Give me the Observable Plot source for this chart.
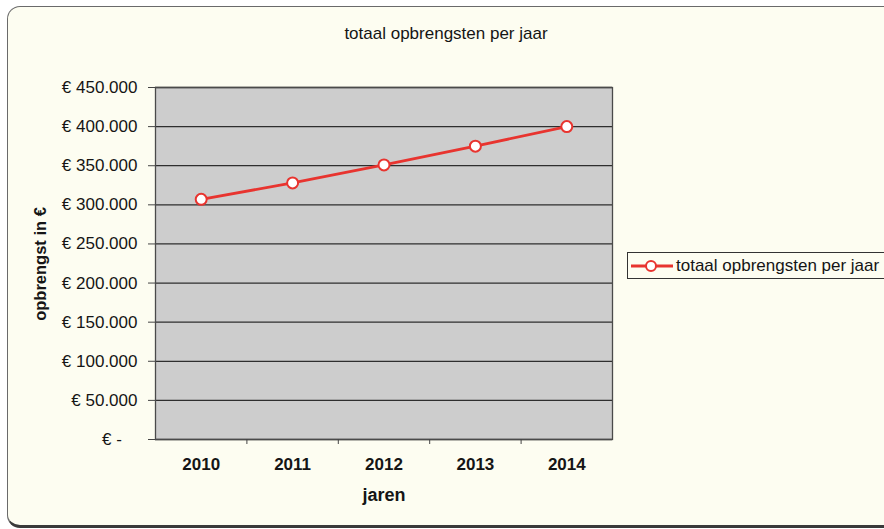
<!DOCTYPE html>
<html>
<head>
<meta charset="utf-8">
<script src="https://cdn.jsdelivr.net/npm/d3@7"></script>
<script src="https://cdn.jsdelivr.net/npm/@observablehq/plot@0.6"></script>
<style>
  html, body { margin: 0; padding: 0; background: #ffffff; overflow: hidden; }
  #wrap { position: relative; width: 884px; height: 529px; overflow: hidden; font-family: "Liberation Sans", Arial, sans-serif; color: #151515; }
  #frame { position: absolute; left: 7px; top: 6px; width: 900px; height: 518px; background: #fdfdf1; border: 1.5px solid #6a6a6a; border-bottom: 3px solid #3a3a3a; border-radius: 13px; }
  #chart { position: absolute; left: 0; top: 0; }
  .title { position: absolute; left: 446px; top: 25px; transform: translateX(-50%); font-size: 17px; white-space: nowrap; line-height: 1; }
  .ylab { position: absolute; left: 40px; top: 264px; transform: translate(-50%, -50%) rotate(-90deg); font-size: 16.5px; font-weight: bold; white-space: nowrap; line-height: 1; }
  .xlab { position: absolute; left: 384px; top: 486px; transform: translateX(-50%); font-size: 18px; font-weight: bold; white-space: nowrap; line-height: 1; }
  .legend { position: absolute; left: 627px; top: 252px; width: 262px; height: 27px; border: 1.5px solid #333; box-sizing: border-box; display: flex; align-items: center; font-size: 17px; white-space: nowrap; }
  .legend svg { margin-left: 3px; margin-right: 3px; }
</style>
</head>
<body>
<div id="wrap">
  <div id="frame"></div>
  <div id="chart"></div>
  <div class="title" id="title"></div>
  <div class="ylab" id="ylab"></div>
  <div class="xlab" id="xlab"></div>
  <div class="legend" id="legend"></div>
</div>
<script>
// ---- data ----
const years = [2010, 2011, 2012, 2013, 2014];
const revenue = [307000, 328000, 351000, 375000, 400000];
const yTicks = [0, 50000, 100000, 150000, 200000, 250000, 300000, 350000, 400000, 450000];
const seriesName = "totaal opbrengsten per jaar";
const chartTitle = "totaal opbrengsten per jaar";
const yTitle = "opbrengst in €";
const xTitle = "jaren";

const red = "#e8342f";
const data = years.map((y, i) => ({year: y, value: revenue[i]}));
const bounds = years.slice(0, -1).map(y => y + 0.5);

const fmt = d => d === 0 ? "€ -\u00a0\u00a0\u00a0\u200a" : "€ " + d3.format(",")(d).replace(/,/g, ".");

const plot = Plot.plot({
  width: 884,
  height: 529,
  marginLeft: 155,
  marginRight: 272,
  marginTop: 87,
  marginBottom: 90,
  style: {background: "transparent", fontFamily: "'Liberation Sans', Arial, sans-serif", fontSize: "17px", color: "#151515"},
  x: {type: "linear", domain: [years[0] - 0.5, years[years.length - 1] + 0.5]},
  y: {domain: [0, 450000]},
  marks: [
    Plot.frame({fill: "#cdcdcd", stroke: null}),
    Plot.gridY({ticks: yTicks, stroke: "#2e2e2e", strokeOpacity: 1, strokeWidth: 1.3}),
    Plot.frame({stroke: "#4a4a4a", strokeWidth: 1.3}),
    Plot.axisY({ticks: yTicks, tickFormat: fmt, tickSize: 7, tickPadding: 11, label: null, stroke: "#444"}),
    Plot.axisX({ticks: bounds, tickFormat: () => "", tickSize: 5, label: null, stroke: "#444"}),
    Plot.axisX({ticks: years, tickFormat: d => String(d), tickSize: 0, tickPadding: 18, label: null, fontWeight: "bold"}),
    Plot.line(data, {x: "year", y: "value", stroke: red, strokeWidth: 2.8}),
    Plot.dot(data, {x: "year", y: "value", r: 5.5, fill: "white", stroke: red, strokeWidth: 2})
  ]
});
document.getElementById("chart").appendChild(plot);
document.getElementById("title").textContent = chartTitle;
document.getElementById("ylab").textContent = yTitle;
document.getElementById("xlab").textContent = xTitle;

const lg = document.getElementById("legend");
lg.innerHTML = `<svg width="42" height="14"><line x1="0" y1="7" x2="42" y2="7" stroke="${red}" stroke-width="2.8"/><circle cx="20" cy="7" r="5" fill="white" stroke="${red}" stroke-width="2"/></svg><span></span>`;
lg.querySelector("span").textContent = seriesName;
</script>
</body>
</html>
